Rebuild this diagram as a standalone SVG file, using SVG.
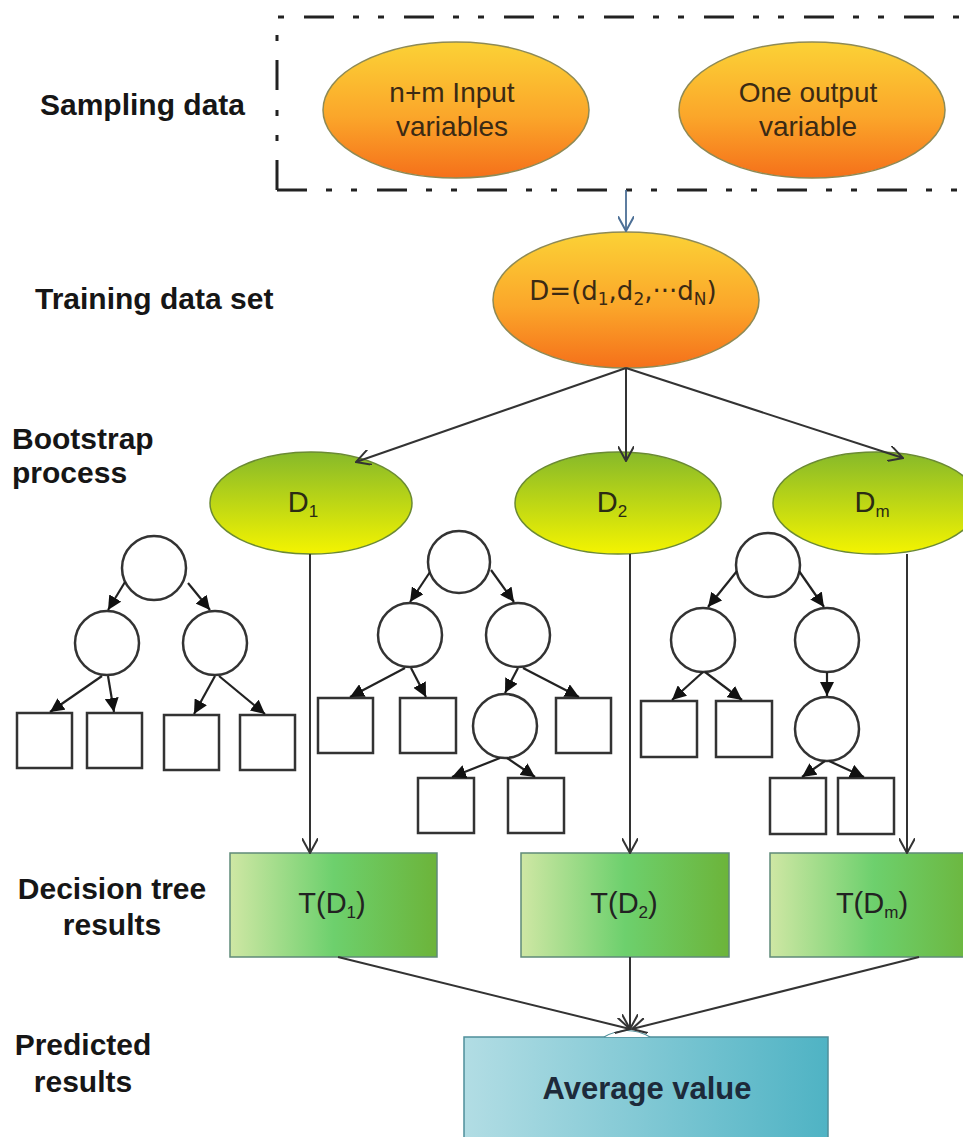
<svg xmlns="http://www.w3.org/2000/svg" width="963" height="1137" viewBox="0 0 963 1137">
  <defs>
    <linearGradient id="orangeFill" x1="0" y1="0" x2="0" y2="1">
      <stop offset="0" stop-color="#fbd236"/>
      <stop offset="0.55" stop-color="#fba62a"/>
      <stop offset="1" stop-color="#f5701a"/>
    </linearGradient>
    <linearGradient id="greenFill" x1="0" y1="0" x2="0" y2="1">
      <stop offset="0" stop-color="#86b92a"/>
      <stop offset="1" stop-color="#f4f400"/>
    </linearGradient>
    <linearGradient id="treeFill" x1="0" y1="0" x2="1" y2="0">
      <stop offset="0" stop-color="#cfe7a4"/>
      <stop offset="0.5" stop-color="#6dd06d"/>
      <stop offset="1" stop-color="#6cb43a"/>
    </linearGradient>
    <linearGradient id="avgFill" x1="0" y1="0" x2="1" y2="0">
      <stop offset="0" stop-color="#b2dde4"/>
      <stop offset="1" stop-color="#4fb3c4"/>
    </linearGradient>
    <marker id="solidHead" viewBox="0 0 10 10" refX="10" refY="5" markerWidth="14" markerHeight="14" markerUnits="userSpaceOnUse" orient="auto">
      <path d="M0,0 L10,5 L0,10 z" fill="#111"/>
    </marker>
    <marker id="openHead" viewBox="0 0 12 12" refX="11" refY="6" markerWidth="16" markerHeight="16" markerUnits="userSpaceOnUse" orient="auto">
      <path d="M0,0 L11,6 L0,12" fill="none" stroke="#333" stroke-width="1.5"/>
    </marker>
    <marker id="openHeadBlue" viewBox="0 0 12 12" refX="11" refY="6" markerWidth="16" markerHeight="16" markerUnits="userSpaceOnUse" orient="auto">
      <path d="M0,0 L11,6 L0,12" fill="none" stroke="#4c6f96" stroke-width="1.5"/>
    </marker>
  </defs>
  <style>
    .lbl { font-family: "Liberation Sans", Arial, sans-serif; font-weight: bold; font-size: 30px; fill: #161616; }
    .ell { font-family: "Liberation Sans", Arial, sans-serif; font-size: 28px; fill: #3b2a14; text-anchor: middle; }
    .dl { font-family: "Liberation Sans", Arial, sans-serif; font-size: 29px; fill: #2b2b14; text-anchor: middle; }
    .sub { font-size: 17px; }
    .orange { fill: url(#orangeFill); stroke: #8e8a55; stroke-width: 1.5; }
    .green { fill: url(#greenFill); stroke: #6b8a34; stroke-width: 1.5; }
    .res { fill: url(#treeFill); stroke: #5f8a78; stroke-width: 1.5; }
    .tn { fill: #fff; stroke: #333; stroke-width: 2.5; }
    .te { stroke: #222; stroke-width: 2.2; fill: none; marker-end: url(#solidHead); }
    .link { stroke: #333; stroke-width: 2; fill: none; marker-end: url(#openHead); }
  </style>

  <rect width="963" height="1137" fill="#fff"/>

  <!-- row captions -->
  <g id="captions">
    <text class="lbl" x="40" y="115">Sampling data</text>
    <text class="lbl" x="35" y="309">Training data set</text>
    <text class="lbl" x="12" y="449">Bootstrap</text>
    <text class="lbl" x="12" y="483">process</text>
    <text class="lbl" x="112" y="899" text-anchor="middle">Decision tree</text>
    <text class="lbl" x="112" y="935" text-anchor="middle">results</text>
    <text class="lbl" x="83" y="1055" text-anchor="middle">Predicted</text>
    <text class="lbl" x="83" y="1092" text-anchor="middle">results</text>
  </g>

  <!-- sampling data frame -->
  <g id="sampling">
    <path d="M277,190 L277,17 L985,17 M277,190 L985,190" fill="none" stroke="#222" stroke-width="3" stroke-dasharray="30,19,6,19,6,20"/>
  </g>

  <g id="inputs">
    <ellipse class="orange" cx="456" cy="110" rx="133" ry="68"/>
    <text class="ell" x="452" y="102">n+m Input</text>
    <text class="ell" x="452" y="136">variables</text>
  </g>
  <g id="output">
    <ellipse class="orange" cx="812" cy="110" rx="133" ry="68"/>
    <text class="ell" x="808" y="102">One output</text>
    <text class="ell" x="808" y="136">variable</text>
  </g>

  <g id="training">
    <ellipse class="orange" cx="626" cy="300" rx="133" ry="68"/>
    <text class="ell" x="623" y="300" style="font-family:'DejaVu Sans','Liberation Sans',sans-serif;font-size:26px">D=(d<tspan class="sub" dy="5">1</tspan><tspan dy="-5">,d</tspan><tspan class="sub" dy="5">2</tspan><tspan dy="-5">,···d</tspan><tspan class="sub" dy="5">N</tspan><tspan dy="-5">)</tspan></text>
  </g>

  <g id="d1">
    <ellipse class="green" cx="311" cy="503" rx="101" ry="51"/>
    <text class="dl" x="303" y="512">D<tspan class="sub" dy="5">1</tspan></text>
  </g>
  <g id="d2">
    <ellipse class="green" cx="618" cy="503" rx="103" ry="51"/>
    <text class="dl" x="612" y="512">D<tspan class="sub" dy="5">2</tspan></text>
  </g>
  <g id="dm">
    <ellipse class="green" cx="876" cy="503" rx="103" ry="51"/>
    <text class="dl" x="872" y="512">D<tspan class="sub" dy="5">m</tspan></text>
  </g>

  <!-- decision tree 1 -->
  <g id="tree1">
    <circle class="tn" cx="154" cy="568" r="32"/>
    <circle class="tn" cx="107" cy="643" r="32"/>
    <circle class="tn" cx="215" cy="643" r="32"/>
    <rect class="tn" x="17" y="713" width="55" height="55"/>
    <rect class="tn" x="87" y="713" width="55" height="55"/>
    <rect class="tn" x="164" y="715" width="55" height="55"/>
    <rect class="tn" x="240" y="715" width="55" height="55"/>
    <path class="te" d="M125,582 L108,610"/>
    <path class="te" d="M188,583 L210,610"/>
    <path class="te" d="M102,676 L50,712"/>
    <path class="te" d="M108,676 L114,712"/>
    <path class="te" d="M215,676 L194,714"/>
    <path class="te" d="M219,676 L265,714"/>
  </g>

  <!-- decision tree 2 -->
  <g id="tree2">
    <circle class="tn" cx="459" cy="562" r="31"/>
    <circle class="tn" cx="410" cy="635" r="32"/>
    <circle class="tn" cx="518" cy="635" r="32"/>
    <circle class="tn" cx="505" cy="726" r="32"/>
    <rect class="tn" x="318" y="698" width="55" height="55"/>
    <rect class="tn" x="400" y="698" width="56" height="55"/>
    <rect class="tn" x="556" y="698" width="55" height="55"/>
    <rect class="tn" x="418" y="778" width="56" height="55"/>
    <rect class="tn" x="508" y="778" width="56" height="55"/>
    <path class="te" d="M430,572 L410,602"/>
    <path class="te" d="M491,570 L514,602"/>
    <path class="te" d="M405,668 L350,697"/>
    <path class="te" d="M411,668 L426,697"/>
    <path class="te" d="M518,668 L505,693"/>
    <path class="te" d="M523,668 L579,697"/>
    <path class="te" d="M500,758 L452,777"/>
    <path class="te" d="M507,758 L535,777"/>
  </g>

  <!-- decision tree 3 -->
  <g id="tree3">
    <circle class="tn" cx="768" cy="565" r="32"/>
    <circle class="tn" cx="703" cy="640" r="32"/>
    <circle class="tn" cx="827" cy="640" r="32"/>
    <circle class="tn" cx="827" cy="729" r="32"/>
    <rect class="tn" x="641" y="701" width="56" height="56"/>
    <rect class="tn" x="716" y="701" width="56" height="56"/>
    <rect class="tn" x="770" y="778" width="56" height="56"/>
    <rect class="tn" x="838" y="778" width="56" height="56"/>
    <path class="te" d="M737,571 L708,607"/>
    <path class="te" d="M799,571 L824,607"/>
    <path class="te" d="M703,672 L672,700"/>
    <path class="te" d="M705,672 L742,700"/>
    <path class="te" d="M827,672 L827,696"/>
    <path class="te" d="M825,761 L802,777"/>
    <path class="te" d="M829,761 L864,777"/>
  </g>

  <g id="t1">
    <rect class="res" x="230" y="853" width="207" height="104"/>
    <text class="dl" x="332" y="913" style="fill:#222">T(D<tspan class="sub" dy="5">1</tspan><tspan dy="-5">)</tspan></text>
  </g>
  <g id="t2">
    <rect class="res" x="521" y="853" width="208" height="104"/>
    <text class="dl" x="624" y="913" style="fill:#222">T(D<tspan class="sub" dy="5">2</tspan><tspan dy="-5">)</tspan></text>
  </g>
  <g id="tm">
    <rect class="res" x="770" y="853" width="208" height="104"/>
    <text class="dl" x="872" y="913" style="fill:#222">T(D<tspan class="sub" dy="5">m</tspan><tspan dy="-5">)</tspan></text>
  </g>

  <g id="average">
    <rect x="464" y="1037" width="364" height="110" fill="url(#avgFill)" stroke="#4f8f9a" stroke-width="1.5"/>
    <path d="M604,1037 Q627,1024 650,1037" fill="#fff" stroke="#4f8f9a" stroke-width="1.2"/>
    <text x="647" y="1099" text-anchor="middle" style="font-family:'Liberation Sans',Arial,sans-serif;font-weight:bold;font-size:31px;fill:#1d2a3a">Average value</text>
  </g>

  <!-- connectors -->
  <g id="connectors">
    <path d="M626,190 L626,231" fill="none" stroke="#4c6f96" stroke-width="1.8" marker-end="url(#openHeadBlue)"/>
    <path class="link" d="M626,368 L356,462"/>
    <path class="link" d="M626,368 L626,461"/>
    <path class="link" d="M626,368 L903,458"/>
    <path class="link" d="M310,554 L310,853"/>
    <path class="link" d="M630,554 L630,853"/>
    <path class="link" d="M907,554 L907,853"/>
    <path class="link" d="M338,957 L630,1029"/>
    <path class="link" d="M630,957 L630,1029"/>
    <path class="link" d="M919,957 L632,1029"/>
  </g>
</svg>
